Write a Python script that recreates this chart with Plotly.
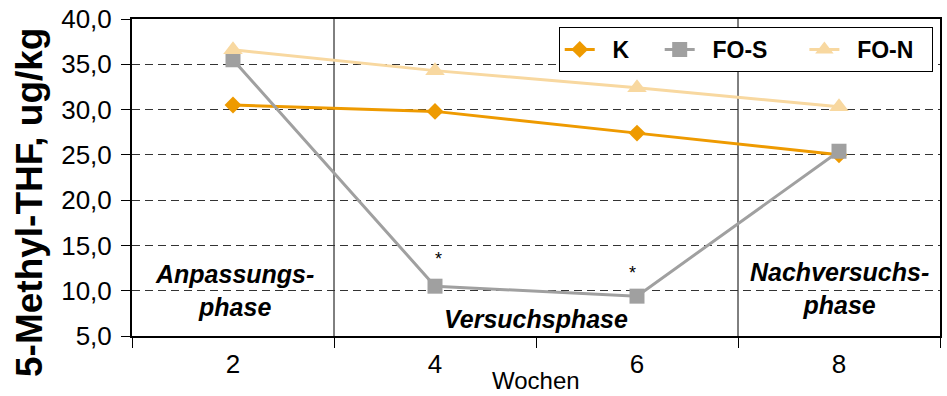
import plotly.graph_objects as go

weeks = [2, 4, 6, 8]
k_vals = [30.5, 29.8, 27.4, 25.0]
fos_vals = [35.5, 10.5, 9.4, 25.4]
fon_vals = [36.6, 34.3, 32.4, 30.3]
series_names = ["K", "FO-S", "FO-N"]
phase_bounds = [3, 7]
star_x = [4.03, 5.96]
star_y = [13.45, 12.0]

FONT = "Liberation Sans, Arial, sans-serif"
NB = "\u00a0"

fig = go.Figure()
fig.add_trace(go.Scatter(x=weeks, y=k_vals, name=NB * 2 + "<b>" + series_names[0] + "</b>" + NB * 4,
                         mode="lines+markers",
                         line=dict(color="#EE9A00", width=3),
                         marker=dict(symbol="diamond", size=13, color="#EE9A00")))
fig.add_trace(go.Scatter(x=weeks, y=fos_vals, name=NB * 2 + "<b>" + series_names[1] + "</b>" + NB * 5,
                         mode="lines+markers",
                         line=dict(color="#A0A0A0", width=3),
                         marker=dict(symbol="square", size=15, color="#A0A0A0")))
fig.add_trace(go.Scatter(x=weeks, y=fon_vals, name=NB * 2 + "<b>" + series_names[2] + "</b>" + NB * 2,
                         mode="lines+markers",
                         line=dict(color="#F8D8A0", width=3),
                         marker=dict(symbol="triangle-up", size=17, color="#F8D8A0")))

for xb in phase_bounds:
    fig.add_shape(type="line", xref="x", yref="paper", x0=xb, x1=xb, y0=0, y1=1,
                  line=dict(color="black", width=1), layer="below")

for xs, ys in zip(star_x, star_y):
    fig.add_annotation(x=xs, y=ys, text="*", showarrow=False,
                       font=dict(family=FONT, size=18, color="black"))

lab_font = dict(family=FONT, size=25, color="black")
fig.add_annotation(x=2.01, y=10.0, text="<b><i>Anpassungs-<br>phase</i></b>", showarrow=False,
                   font=lab_font, align="center")
fig.add_annotation(x=5, y=6.9, text="<b><i>Versuchsphase</i></b>", showarrow=False,
                   font=lab_font, align="center")
fig.add_annotation(x=8, y=10.2, text="<b><i>Nachversuchs-<br>phase</i></b>", showarrow=False,
                   font=lab_font, align="center")

# axis titles as annotations for precise placement
fig.add_annotation(xref="paper", yref="paper", x=-0.1275, y=0.4227, text="<b>5-Methyl-THF, ug/kg</b>",
                   textangle=-90, showarrow=False, xanchor="center", yanchor="middle",
                   font=dict(family=FONT, size=37, color="black"))
fig.add_annotation(xref="paper", yref="paper", x=0.5, y=-0.139, text="Wochen",
                   showarrow=False, xanchor="center", yanchor="middle",
                   font=dict(family=FONT, size=24, color="black"))

fig.update_layout(
    width=947, height=396,
    margin=dict(l=132, r=7, t=19, b=60, autoexpand=False),
    paper_bgcolor="white", plot_bgcolor="white",
    separators=",.",
    font=dict(family=FONT, color="black"),
    showlegend=True,
    legend=dict(orientation="h", x=0.991, xanchor="right", y=0.975, yanchor="top",
                bordercolor="black", borderwidth=1, bgcolor="white",
                font=dict(family=FONT, size=23, color="black")),
)

fig.update_xaxes(
    range=[1, 9], tickvals=weeks, ticktext=[str(w) for w in weeks], ticks="",
    showgrid=False, zeroline=False, automargin=False,
    showline=True, linecolor="black", linewidth=2, mirror=True,
    tickfont=dict(family=FONT, size=26, color="black"), ticklabelstandoff=4,
    minor=dict(tick0=1, dtick=2, ticks="outside", ticklen=10, tickcolor="black", tickwidth=1, showgrid=False),
)
fig.update_yaxes(
    range=[5, 40], dtick=5, tickformat=".1f",
    ticks="outside", ticklen=9, tickcolor="black", tickwidth=1,
    showgrid=True, gridcolor="#333333", griddash="8px,5px", gridwidth=1,
    zeroline=False, automargin=False,
    showline=True, linecolor="black", linewidth=2, mirror=True,
    tickfont=dict(family=FONT, size=26, color="black"), ticklabelstandoff=4,
)

fig.write_html("out.html", config={"displayModeBar": False},
               post_script="document.body.style.margin='0px';document.body.style.overflow='hidden';")
